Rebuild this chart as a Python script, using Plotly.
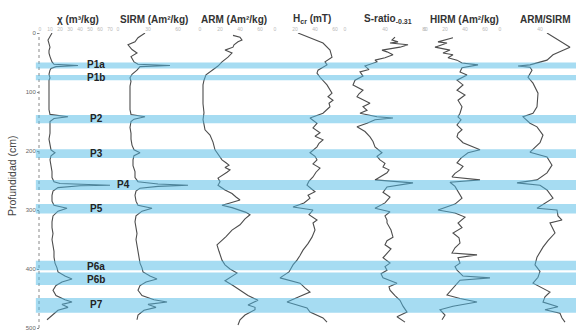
import plotly.graph_objects as go

# ---------------- data (depth in cm, values in panel units) ----------------
chi_depth = [0, 5, 12, 18, 24, 30, 34, 40, 49, 53, 55, 57, 60, 63, 70, 76, 80, 90, 100, 110, 120, 130, 138, 142, 145,
             150, 160, 170, 180, 190, 198, 203, 208, 215, 225, 235, 245, 252, 255, 257, 258, 259, 261, 262, 268, 275,
             285, 292, 297, 302, 310, 320, 330, 340, 350, 360, 370, 380, 390, 398, 405, 412, 417, 422, 428, 436, 445,
             452, 456, 460, 465, 470, 478, 486]
chi_val = [12, 10, 8, 9, 10, 9, 9, 10, 12, 14, 38, 16, 11, 10, 9, 10, 9, 9, 9, 9, 9, 9, 10, 28, 14,
           10, 10, 10, 9, 10, 11, 15, 11, 10, 11, 12, 12, 14, 20, 45, 70, 40, 22, 18, 13, 12,
           12, 14, 27, 18, 13, 12, 12, 13, 12, 13, 14, 14, 15, 17, 18, 25, 32, 22, 16, 13, 16,
           25, 32, 22, 28, 18, 12, 7]

sirm_depth = [0, 8, 15, 20, 28, 34, 40, 49, 53, 55, 57, 63, 70, 76, 82, 90, 100, 110, 120, 130, 138, 142, 146, 150,
              160, 170, 180, 190, 198, 203, 208, 215, 225, 235, 245, 252, 256, 258, 260, 263, 268, 275, 285, 292, 297,
              302, 310, 320, 330, 340, 350, 360, 370, 380, 390, 398, 405, 412, 417, 422, 428, 436, 445, 452, 456, 460,
              465, 470, 478, 486]
sirm_val = [27, 20, 17, 10, 14, 19, 13, 16, 20, 52, 22, 19, 14, 12, 13, 12, 12, 12, 12, 12, 13, 27, 16, 13,
            12, 13, 13, 14, 16, 22, 16, 15, 15, 17, 17, 20, 40, 70, 40, 22, 18, 17, 18, 20, 34,
            24, 18, 17, 18, 19, 18, 19, 20, 21, 22, 24, 25, 32, 39, 28, 22, 20, 24, 36, 49, 30,
            38, 26, 20, 19]

arm_depth = [4, 7, 12, 15, 20, 24, 29, 34, 41, 49, 56, 63, 71, 80, 88, 100, 120, 135, 147, 155, 164, 173, 185, 198,
             206, 215, 220, 224, 228, 232, 236, 241, 246, 252, 258, 266, 272, 278, 283, 288, 292, 296, 300, 304, 308,
             315, 325, 334, 345, 359, 370, 376, 385, 393, 400, 407, 414, 420, 428, 436, 445, 453, 461, 465, 469, 478,
             486, 495]
arm_val = [33, 40, 42, 38, 34, 33, 25, 32, 28, 22, 18, 12, 6, 4, 3, 3, 3, 4, 3, 4, 5, 10, 13, 15,
           18, 22, 26, 29, 25, 30, 27, 23, 18, 20, 18, 25, 32, 36, 40, 30, 22, 32, 40, 46, 50,
           45, 40, 32, 26, 17, 19, 20, 22, 25, 30, 37, 30, 25, 33, 40, 48, 58, 48, 55, 55, 45,
           40, 38]

hcr_depth = [0, 8, 17, 29, 41, 49, 54, 63, 68, 75, 88, 102, 108, 114, 119, 125, 136, 144, 153, 161, 169, 175, 181,
             187, 193, 203, 209, 215, 222, 229, 236, 244, 251, 258, 264, 269, 275, 280, 288, 295, 300, 308, 317, 322,
             334, 346, 357, 368, 377, 385, 393, 405, 415, 424, 432, 439, 447, 456, 466, 473, 483, 490]
hcr_val = [23, 35, 48, 55, 57, 50, 52, 43, 42, 45, 52, 57, 53, 58, 54, 55, 48, 35, 42, 38, 45, 40, 48,
           44, 42, 35, 40, 42, 38, 45, 41, 38, 34, 32, 36, 40, 33, 35, 29, 18, 38, 34, 42, 38,
           40, 37, 33, 28, 25, 22, 18, 14, 5, 25, 30, 35, 24, 12, 32, 35, 48, 52]

sratio_depth = [7, 12, 15, 17, 20, 24, 29, 32, 37, 42, 46, 49, 56, 62, 66, 73, 80, 88, 97, 103, 108, 114, 119, 125,
                131, 136, 142, 144, 147, 153, 159, 167, 176, 184, 193, 203, 209, 215, 221, 227, 232, 237, 243, 249,
                254, 261, 270, 278, 288, 297, 303, 310, 317, 322, 334, 346, 352, 359, 366, 373, 381, 390, 396, 402,
                408, 415, 424, 430, 436, 445, 453, 463, 473, 481, 490]
sratio_val = [50, 47, 53, 45, 63, 55, 37, 42, 48, 40, 30, 32, 20, 24, 15, 18, 10, 8, 18, 14, 12, 20, 25, 18,
              22, 15, 32, 48, 30, 22, 12, 20, 25, 28, 30, 37, 32, 35, 40, 38, 44, 42, 36, 30,
              68, 42, 38, 45, 40, 30, 45, 40, 42, 42, 46, 48, 42, 40, 46, 42, 38, 45, 40, 42,
              36, 38, 52, 44, 45, 50, 55, 58, 62, 52, 60]

hirm_depth = [8, 15, 17, 24, 29, 34, 37, 42, 46, 51, 54, 59, 66, 71, 80, 88, 97, 105, 114, 125, 136, 142, 147, 156,
              164, 170, 176, 186, 198, 203, 212, 220, 226, 232, 238, 244, 249, 253, 260, 266, 273, 280, 290, 300,
              305, 312, 322, 330, 339, 347, 356, 364, 373, 376, 381, 390, 396, 402, 412, 415, 419, 428, 436, 444,
              450, 456, 463, 469, 478, 486]
hirm_val = [28, 13, 22, 10, 25, 18, 28, 23, 32, 37, 53, 37, 35, 42, 32, 38, 32, 40, 33, 37, 35, 33, 36, 32,
            37, 33, 32, 38, 55, 43, 36, 32, 38, 35, 30, 27, 55, 25, 30, 32, 35, 37, 30, 13,
            30, 40, 33, 37, 28, 34, 35, 30, 27, 52, 33, 35, 30, 32, 38, 65, 35, 30, 26, 22,
            35, 52, 28, 15, 20, 17]

armsirm_depth = [0, 8, 15, 24, 30, 37, 46, 49, 54, 56, 58, 63, 75, 85, 102, 125, 136, 142, 153, 159, 166, 173, 186,
                 202, 210, 224, 237, 249, 254, 258, 266, 280, 297, 300, 310, 317, 322, 339, 352, 363, 380, 393, 404,
                 414, 424, 439, 447, 456, 464, 469, 475, 483, 490]
armsirm_val = [47, 55, 62, 70, 62, 53, 47, 40, 30, 18, 30, 32, 28, 33, 38, 37, 33, 23, 30, 37, 40, 43, 40,
               30, 47, 52, 47, 37, 17, 40, 47, 53, 37, 57, 58, 62, 50, 55, 48, 43, 37, 35, 40,
               38, 33, 50, 45, 43, 58, 45, 60, 62, 65]

panel_titles = ["<b>χ (m³/kg)</b>", "<b>SIRM (Am²/kg)</b>", "<b>ARM (Am²/kg)</b>",
                "<b>H<sub>cr</sub> (mT)</b>", "<b>S-ratio<sub>-0.31</sub></b>", "<b>HIRM (Am²/kg)</b>",
                "<b>ARM/SIRM</b>"]

band_names = ["P1a", "P1b", "P2", "P3", "P4", "P5", "P6a", "P6b", "P7"]
band_top = [50, 71, 139, 197, 249, 290, 386, 406, 449]
band_bottom = [60, 80, 153, 212, 266, 306, 402, 427, 474]
band_label_depth = [54, 76, 145, 204, 257, 298, 395, 417, 461]

depth_ticks = [0, 100, 200, 300, 400, 500]

# ---------------- layout helpers ----------------
W, H = 576, 332
VX0, VX1, VY0, VY1 = 38, 576, 33, 328      # plot area in pixels
ML, MT = VX0, VY0
MR, MB = W - VX1, H - VY1


def px(x):
    return (x - VX0) / (VX1 - VX0)


def py(y):
    return 1 - (y - VY0) / (VY1 - VY0)


series = [(chi_depth, chi_val), (sirm_depth, sirm_val), (arm_depth, arm_val), (hcr_depth, hcr_val),
          (sratio_depth, sratio_val), (hirm_depth, hirm_val), (armsirm_depth, armsirm_val)]
panel_edges = [(40, 118), (118, 200), (200, 275), (275, 345), (345, 425), (425, 500), (500, 576)]
panel_dtick = [10, 30, 20, 20, 40, 20, 40]
title_x = [78, 154, 234, 312, 388, 464, 545]

fig = go.Figure()
layout_axes = {}
for i, ((d, v), (L, R)) in enumerate(zip(series, panel_edges)):
    n = "" if i == 0 else str(i + 1)
    fig.add_trace(go.Scatter(x=v, y=d, mode="lines", xaxis="x" + n, yaxis="y",
                             line=dict(color="#4d4d4d", width=1.1), showlegend=False, hoverinfo="skip"))
    layout_axes["xaxis" + n] = dict(
        domain=[px(L), min(px(R), 1.0)], range=[0, R - L], anchor="y", side="top",
        showgrid=False, zeroline=False, showline=False, dtick=panel_dtick[i], tick0=0,
        ticks="", tickfont=dict(size=5, color="#b8b8b8"),
    )

fig.update_layout(**layout_axes)
fig.update_layout(
    width=W, height=H, margin=dict(l=ML, r=MR, t=MT, b=MB, autoexpand=False),
    paper_bgcolor="white", plot_bgcolor="white",
    font=dict(family="Liberation Sans, Arial, sans-serif"),
    yaxis=dict(range=[500, 0], domain=[0, 1], showgrid=False, zeroline=False, showline=False,
               tickvals=depth_ticks, ticks="outside", ticklen=2, tickcolor="#888",
               tickfont=dict(size=6, color="#666")),
)

shapes = []
for t, b in zip(band_top, band_bottom):
    shapes.append(dict(type="rect", xref="paper", yref="y", x0=-0.004, x1=1.0, y0=t, y1=b,
                       fillcolor="rgb(77,185,229)", opacity=0.5, line=dict(width=0), layer="above"))
shapes.append(dict(type="line", xref="paper", yref="paper", x0=px(39), x1=px(39), y0=0, y1=1,
                   line=dict(color="#888", width=1, dash="dot"), layer="below"))
fig.update_layout(shapes=shapes)

ann = []
for t, x in zip(panel_titles, title_x):
    ann.append(dict(text=t, xref="paper", yref="paper", x=px(x), y=py(19), showarrow=False,
                    xanchor="center", yanchor="middle", font=dict(size=10, color="#333")))
for name, dep in zip(band_names, band_label_depth):
    xc = 123 if name == "P4" else 96
    label = "<b>" + name + "</b>"
    ann.append(dict(text=label, xref="paper", yref="y", x=px(xc), y=dep, showarrow=False,
                    xanchor="center", yanchor="middle", font=dict(size=10, color="#222")))
ann.append(dict(text="Profundidad (cm)", xref="paper", yref="paper", x=px(12), y=py(176), textangle=-90,
                showarrow=False, xanchor="center", yanchor="middle", font=dict(size=10.5, color="#444")))
fig.update_layout(annotations=ann)

fig.write_html("out.html", config={"displayModeBar": False},
               post_script="document.body.style.margin='0';document.body.style.overflow='hidden';")
